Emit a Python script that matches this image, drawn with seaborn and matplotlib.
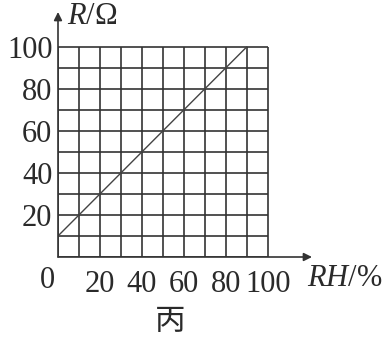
import matplotlib
matplotlib.use("Agg")
import matplotlib.pyplot as plt
import seaborn as sns
import pandas as pd

# data
rh = [0, 90]
r = [10, 100]
x_ticks = [20, 40, 60, 80, 100]
x_tick_labels = ["20", "40", "60", "80", "100"]
y_ticks = [20, 40, 60, 80, 100]
y_tick_labels = ["20", "40", "60", "80", "100"]
grid_vals = [0, 10, 20, 30, 40, 50, 60, 70, 80, 90, 100]

sns.set_theme(style="white")
plt.rcParams['font.family'] = ['Liberation Serif', 'DejaVu Serif']
plt.rcParams['mathtext.fontset'] = 'custom'
plt.rcParams['mathtext.rm'] = 'Liberation Serif'
plt.rcParams['mathtext.it'] = 'Liberation Serif:italic'

fig = plt.figure(figsize=(3.88, 3.38), dpi=100)
ax = fig.add_axes([58/388, 81/338, 254/388, 245/338])
ax.set_xlim(0, 121)
ax.set_ylim(0, 116.5)

col = "#333333"
tcol = "#2a2a2a"
ax.vlines(grid_vals, 0, 100, color=col, lw=1.2, zorder=1)
ax.hlines(grid_vals, 0, 100, color=col, lw=1.2, zorder=1)

df = pd.DataFrame({"RH": rh, "R": r})
sns.lineplot(data=df, x="RH", y="R", ax=ax, color="#444444", lw=1.0, zorder=2)

for s in ax.spines.values():
    s.set_visible(False)

# axes arrows
ax.annotate("", xy=(121, 0), xytext=(0, 0), xycoords="data",
            arrowprops=dict(arrowstyle="-|>", color=col, lw=1.2,
                            mutation_scale=12, shrinkA=0, shrinkB=0),
            annotation_clip=False)
ax.annotate("", xy=(0, 116.5), xytext=(0, 0), xycoords="data",
            arrowprops=dict(arrowstyle="-|>", color=col, lw=1.2,
                            mutation_scale=12, shrinkA=0, shrinkB=0),
            annotation_clip=False)

fs = 22
ax.set_xticks(x_ticks)
ax.set_xticklabels(x_tick_labels)
ax.set_yticks(y_ticks)
ax.set_yticklabels(y_tick_labels)
ax.tick_params(axis="both", length=0, labelsize=fs, colors=tcol)
ax.tick_params(axis="x", pad=9)
ax.tick_params(axis="y", pad=4)
ax.set_xlabel("")
ax.set_ylabel("")

ax.text(-5, -11.4, "0", fontsize=fs, ha="center", va="center", color=tcol, clip_on=False)
ax.text(4.3, 114.5, r"$\mathit{R}/\Omega$", fontsize=fs, ha="left", va="center", color=tcol, clip_on=False)
ax.text(118.5, -10, r"$\mathit{RH}/\%$", fontsize=fs, ha="left", va="center", color=tcol, clip_on=False)
ax.text(53.5, -30.5, "丙", fontsize=22, ha="center", va="center", color=tcol,
        family=['Noto Sans CJK SC', 'DejaVu Sans'], clip_on=False)

fig.savefig("out.png", dpi=100)
